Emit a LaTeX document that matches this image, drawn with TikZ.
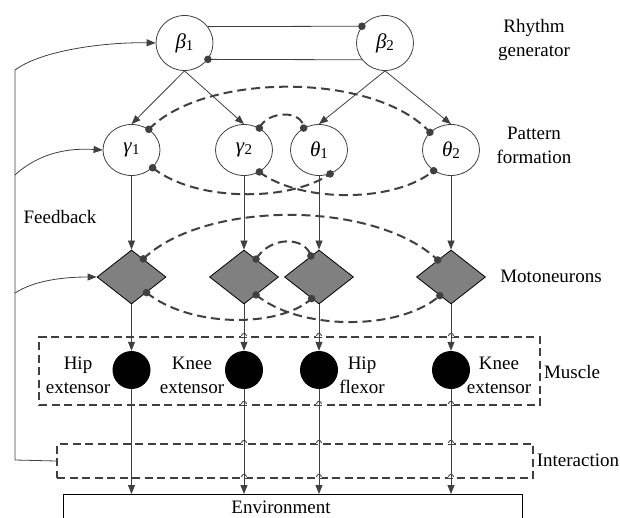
\documentclass[tikz,border=0pt]{standalone}
\usepackage{fontspec}
\setmainfont{Liberation Serif}
\usetikzlibrary{arrows.meta,shapes.geometric,calc}
\definecolor{lc}{HTML}{404040}
\definecolor{dg}{HTML}{808080}
\newcommand\glab[2]{\textit{#1}\raisebox{-0.2ex}{\fontsize{15}{15}\selectfont #2}}
\newcommand\hopgap[2]{\fill[white] (#1-3,#2-1.4) rectangle (#1+3,#2+1.4);}
\newcommand\hoparc[2]{\draw[lc,line width=0.9pt] (#1-2.5,#2) .. controls (#1-2.5,#2-3.5) and (#1+2.5,#2-3.5) .. (#1+2.5,#2);}
\begin{document}
\begin{tikzpicture}[x=1pt,y=-1pt,
  font=\fontsize{19}{24}\selectfont,
  neuron/.style={ellipse,draw=lc,line width=0.8pt,minimum width=57pt,minimum height=51pt,inner sep=0pt,font=\fontsize{21}{21}\selectfont},
  motor/.style={diamond,draw=black,line width=0.8pt,fill=dg,minimum width=69pt,minimum height=54pt,inner sep=0pt,aspect=1.28},
  muscle/.style={circle,fill=black,minimum size=38pt,inner sep=0pt},
  conn/.style={draw=lc,line width=0.8pt,-{Triangle[length=9pt,width=7pt]}},
  plain/.style={draw=lc,line width=0.8pt},
  inhib/.style={draw=lc,line width=2pt,dash pattern=on 9pt off 5pt},
  dbox/.style={draw=lc,line width=2pt,dash pattern=on 8pt off 4.5pt,inner sep=0pt,anchor=north west},
  lbl/.style={align=center,inner sep=0pt},
  dot/.style={fill=lc},
]
\useasboundingbox (0,0) rectangle (620,518);
\clip (0,0) rectangle (620,518);

% boxes
\node[dbox,minimum width=501pt,minimum height=68pt] (mbox) at (38,336) {};
\node[dbox,minimum width=476pt,minimum height=34pt] (ibox) at (56,443) {};
\node[draw=black,line width=0.8pt,minimum width=459pt,minimum height=50pt,inner sep=0pt,anchor=north west] (env) at (63,494) {};
\foreach \xx in {244,319,451}{\foreach \yy in {336,404,443,477}{\hopgap{\xx}{\yy}}}

% nodes
\node[neuron,minimum height=55pt] (b1) at (184.5,43) {\glab{β}{1}};
\node[neuron,minimum height=55pt] (b2) at (385,43) {\glab{β}{2}};
\node[neuron] (g1) at (131.5,150) {\glab{γ}{1}};
\node[neuron] (g2) at (244,150) {\glab{γ}{2}};
\node[neuron] (t1) at (319,150) {\glab{θ}{1}};
\node[neuron] (t2) at (451,150) {\glab{θ}{2}};
\node[motor] (d1) at (131.5,277) {};
\node[motor] (d2) at (244,277) {};
\node[motor] (d3) at (319,277) {};
\node[motor] (d4) at (451,277) {};
\node[muscle] (m1) at (131.5,370) {};
\node[muscle] (m2) at (244,370) {};
\node[muscle] (m3) at (319,370) {};
\node[muscle] (m4) at (451,370) {};

% labels
\node[lbl] (rg) at (534,40) {Rhythm\\generator};
\node[lbl] (pf) at (534,145) {Pattern\\formation};
\node[lbl] (mn) at (551,276) {Motoneurons};
\node[lbl] (mu) at (572,372) {Muscle};
\node[lbl] (ia) at (578,460) {Interaction};
\node[lbl] (fb) at (60,217) {Feedback};
\node[lbl] (he) at (78,375) {Hip\\extensor};
\node[lbl] (ke) at (192,375) {Knee\\extensor};
\node[lbl] (hf) at (362,375) {Hip\\flexor};
\node[lbl] (ke2) at (499,375) {Knee\\extensor};
\node[lbl] (envt) at (281,507) {Environment};

% rhythm generator links
\draw[plain] (b1.35.6) -- (b2.144.4);
\fill[dot] (b2.144.4) circle (3.8pt);
\draw[plain] (b2.-144.4) -- (b1.-35.6);
\fill[dot] (b1.-35.6) circle (3.8pt);

% excitatory connections
\draw[conn] (b1.south) -- (g1.north);
\draw[conn] (b1.south) -- (g2.north);
\draw[conn] (b2.south) -- (t1.north);
\draw[conn] (b2.south) -- (t2.north);
\foreach \a/\b/\c in {g1/d1/m1,g2/d2/m2,t1/d3/m3,t2/d4/m4}{
  \draw[conn] (\a.south) -- (\b.north);
  \draw[conn] (\b.south) -- (\c.north);
  \draw[conn] (\c.south) -- (\c.south |- env.north);
}

% pattern formation inhibition
\draw[inhib] (g1.50) .. controls (205,72) and (375,72) .. (t2.140);
\draw[inhib] (g2.55) .. controls (268,110) and (303,110) .. (t1.125);
\draw[inhib] (g1.-40) .. controls (195,202) and (290,202) .. (t1.-65);
\draw[inhib] (g2.-55) .. controls (300,203) and (395,203) .. (t2.-130);
\fill[dot] (g1.50) circle (3.8pt) (t2.140) circle (3.8pt) (g2.55) circle (3.8pt) (t1.125) circle (3.8pt)
  (g1.-40) circle (3.8pt) (t1.-65) circle (3.8pt) (g2.-55) circle (3.8pt) (t2.-130) circle (3.8pt);

% motoneuron inhibition
\draw[inhib] (d1.57) .. controls (205,200) and (375,200) .. (d4.128);
\draw[inhib] (d2.56) .. controls (270,236) and (305,236) .. (d3.111);
\draw[inhib] (d1.-46) .. controls (190,328) and (280,328) .. (d3.-109);
\draw[inhib] (d2.-56) .. controls (300,331) and (400,331) .. (d4.-121);
\fill[dot] (d1.57) circle (3.8pt) (d4.128) circle (3.8pt) (d2.56) circle (3.8pt) (d3.111) circle (3.8pt)
  (d1.-46) circle (3.8pt) (d3.-109) circle (3.8pt) (d2.-56) circle (3.8pt) (d4.-121) circle (3.8pt);

% feedback
\coordinate (fb0) at (15,460);
\coordinate (fbtop) at (15,70);
\coordinate (fbg) at (15,175);
\coordinate (fbd) at (15,293);
\draw[plain] (ibox.west) -- (fb0) -- (fbtop);
\draw[conn] (fbtop) .. controls (45,48) and (115,42) .. (b1.west);
\draw[conn] (fbg) .. controls (40,152) and (70,148) .. (g1.west);
\draw[conn] (fbd) .. controls (35,280) and (65,277) .. (d1.west);

% line hops
\foreach \xx in {244,319,451}{\foreach \yy in {336,404,443,477}{\hoparc{\xx}{\yy}}}
\end{tikzpicture}
\end{document}
